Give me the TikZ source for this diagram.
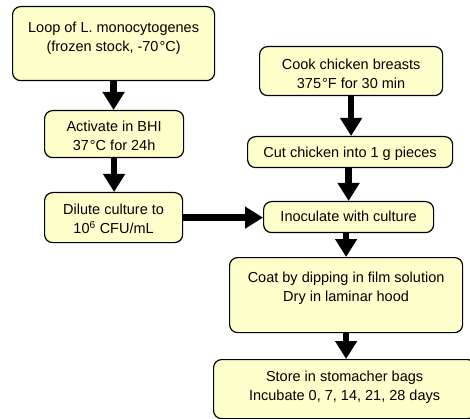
\documentclass[tikz,border=0pt]{standalone}
\usepackage{fontspec}
\setmainfont{Liberation Sans}
\usetikzlibrary{arrows.meta}
\definecolor{boxfill}{HTML}{FFFFCC}
\newcommand\boxtext[4]{\parbox[c][#2pt][t]{#1pt}{\centering\vspace*{#3pt}#4\par}}
\tikzset{
  flowbox/.style={draw=black, fill=boxfill, line width=1.2pt, rounded corners=8pt,
    inner sep=0pt, anchor=north west,
    font=\fontsize{14.5}{19.5}\selectfont},
  flowarrow/.style={line width=6.5pt, -{Triangle[width=21pt,length=18pt]}}
}
\begin{document}
\begin{tikzpicture}[x=1pt,y=-1pt]
\useasboundingbox (0,0) rectangle (470,419);
% left column
\node[flowbox] (loop) at (12,6) {\boxtext{202}{74}{12}{\strut Loop of L. monocytogenes\\\strut(frozen stock, -70\kern1pt°C)}};
\node[flowbox] (act) at (44,110) {\boxtext{139}{47}{7}{\strut Activate in BHI\\\strut 37\kern1pt°C for 24h}};
\node[flowbox] (dil) at (44,192) {\boxtext{138}{50}{8}{\strut Dilute culture to\\\strut 10\textsuperscript{6} CFU/mL}};
% right column
\node[flowbox] (cook) at (259,46) {\boxtext{183}{49}{9}{\strut Cook chicken breasts\\\strut 375\kern1pt°F for 30 min}};
\node[flowbox] (cut) at (247,136) {\boxtext{205}{31}{7}{\strut Cut chicken into 1 g pieces}};
\node[flowbox] (inoc) at (263,201) {\boxtext{170}{31}{6}{\strut Inoculate with culture}};
\node[flowbox] (coat) at (229,257) {\boxtext{233}{75}{11}{\strut Coat by dipping in film solution\\\strut Dry in laminar hood}};
\node[flowbox] (store) at (213,359) {\boxtext{262}{59}{8}{\strut Store in stomacher bags\\\strut Incubate 0, 7, 14, 21, 28 days}};
% arrows
\draw[flowarrow] (loop.south) -- (loop.south |- act.north);
\draw[flowarrow] (act.south) -- (act.south |- dil.north);
\draw[flowarrow] (dil.east) -- (dil.east -| inoc.west);
\draw[flowarrow] (cook.south) -- (cook.south |- cut.north);
\draw[flowarrow] (cut.south -| inoc.north) -- (inoc.north);
\draw[flowarrow] (inoc.south -| coat.north) -- (coat.north);
\draw[flowarrow] (coat.south) -- (coat.south |- store.north);
\end{tikzpicture}
\end{document}
